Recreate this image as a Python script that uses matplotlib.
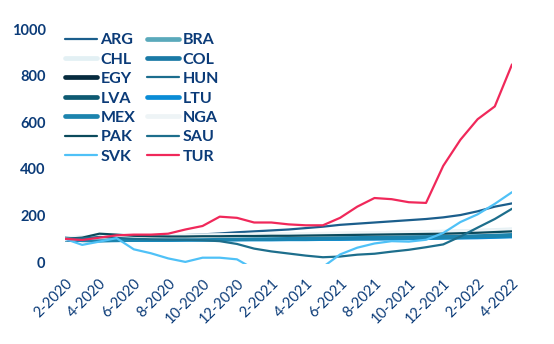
import numpy as np
import matplotlib as mpl
mpl.use('Agg')
import matplotlib.pyplot as plt

# months Feb 2020 .. Apr 2022, index = 100 at 2-2020
months = ['%d-%d' % (m, y) for y, m0, m1 in [(2020, 2, 12), (2021, 1, 12), (2022, 1, 4)]
          for m in range(m0, m1 + 1)]
tick_labels = months[::2]

ARG = [100, 103, 106, 108, 110, 111, 113, 116, 119, 123, 128, 132, 136, 140, 146, 152,
       160, 165, 170, 175, 180, 185, 192, 202, 218, 238, 252]
BRA = [100, 96, 95, 97, 98, 98, 99, 100, 100, 101, 102, 102, 103, 103, 104, 104,
       105, 105, 106, 106, 107, 107, 108, 109, 110, 112, 114]
CHL = [100, 104, 106, 107, 108, 109, 110, 111, 112, 113, 114, 115, 116, 117, 118, 119,
       120, 121, 122, 124, 125, 127, 129, 131, 133, 136, 139]
COL = [100, 98, 97, 98, 99, 99, 100, 100, 101, 101, 102, 102, 103, 103, 104, 105,
       105, 106, 107, 108, 109, 110, 111, 112, 114, 116, 118]
EGY = [100, 102, 103, 104, 104, 105, 105, 106, 106, 107, 107, 108, 108, 109, 110, 111,
       112, 113, 114, 115, 116, 118, 119, 121, 124, 127, 130]
HUN = [100, 104, 106, 107, 108, 108, 109, 109, 110, 110, 111, 111, 112, 112, 113, 113,
       114, 114, 115, 116, 116, 117, 118, 119, 120, 121, 123]
LVA = [100, 102, 103, 103, 104, 104, 105, 105, 106, 106, 107, 107, 108, 108, 109, 110,
       111, 112, 113, 114, 115, 116, 118, 120, 122, 124, 127]
LTU = [100, 97, 96, 96, 97, 97, 97, 98, 98, 98, 99, 99, 99, 100, 100, 101,
       101, 102, 102, 103, 104, 105, 106, 107, 108, 110, 112]
MEX = [100, 96, 95, 96, 97, 98, 98, 99, 99, 100, 100, 101, 101, 102, 102, 103,
       104, 104, 105, 106, 107, 108, 109, 110, 112, 114, 116]
NGA = [100, 106, 108, 109, 110, 110, 111, 112, 113, 114, 115, 116, 117, 118, 119, 120,
       121, 122, 123, 124, 125, 126, 127, 128, 130, 132, 135]
PAK = [100, 105, 122, 118, 113, 111, 110, 110, 111, 111, 112, 112, 113, 113, 114, 115,
       116, 117, 118, 119, 120, 121, 122, 124, 126, 129, 132]
SAU = [100, 102, 108, 104, 100, 98, 97, 96, 94, 90, 78, 58, 46, 37, 28, 21,
       24, 32, 36, 45, 53, 64, 76, 110, 148, 185, 229]
SVK = [100, 74, 88, 103, 55, 38, 16, 1, 19, 19, 12, -30, -45, -50, -40, -21,
       33, 62, 80, 90, 88, 96, 125, 172, 205, 250, 300]
TUR = [100, 95, 105, 115, 118, 118, 122, 140, 155, 195, 190, 170, 170, 162, 158, 158,
       190, 238, 275, 270, 257, 254, 413, 525, 613, 668, 848]

names = ['ARG', 'BRA', 'CHL', 'COL', 'EGY', 'HUN', 'LVA', 'LTU', 'MEX', 'NGA', 'PAK', 'SAU', 'SVK', 'TUR']
series = [ARG, BRA, CHL, COL, EGY, HUN, LVA, LTU, MEX, NGA, PAK, SAU, SVK, TUR]
colors = ['#1b5e8c', '#5aa9bb', '#e3f0f4', '#1a7aa6', '#062b3e', '#1c6d8e', '#0e5a72',
          '#0a8cd6', '#1c84ae', '#eef4f6', '#0b4a5c', '#1d6e8c', '#4fc1f7', '#f0285a']
thick = ['BRA', 'CHL', 'COL', 'EGY', 'LVA', 'LTU', 'MEX', 'NGA']

navy = '#0b3b78'
plt.rcParams['font.family'] = ['Lato', 'DejaVu Sans']

fig = plt.figure(figsize=(5.54, 3.44), dpi=100)
ax = fig.add_axes([65/554, 1 - 264/344, (512 - 65)/554, (264 - 29)/344])

x = np.arange(len(months))
lines = {}
for name, vals, c in zip(names, series, colors):
    lw = 3.4 if name in thick else 1.6
    ln, = ax.plot(x, vals, color=c, lw=lw, solid_capstyle='round', label=name)
    lines[name] = ln

ax.set_xlim(0, len(months) - 1)
ax.set_ylim(-8, 1000)
ax.set_yticks([0, 200, 400, 600, 800, 1000])
ax.set_xticks(x[::2])
ax.set_xticklabels(tick_labels, rotation=45, ha='right', va='top', rotation_mode='anchor')
for s in ax.spines.values():
    s.set_visible(False)
ax.tick_params(axis='x', length=0, pad=9, labelsize=10.5, labelcolor=navy)
ax.tick_params(axis='y', length=0, pad=14, labelsize=10.5, labelcolor=navy)
for t in ax.get_yticklabels():
    t.set_fontweight('bold')

# legend filled row by row
order = names[0::2] + names[1::2]
ax.legend([lines[n] for n in order], order, ncol=2, frameon=False,
          loc='upper left', bbox_to_anchor=(65/554, 1 - 33/344), bbox_transform=fig.transFigure,
          borderpad=0, borderaxespad=0, handlelength=2.0, handletextpad=0.22,
          columnspacing=0.75, labelspacing=0.33,
          prop={'size': 11.5, 'weight': 'bold'}, labelcolor=navy)

fig.savefig('out.png', dpi=100)
